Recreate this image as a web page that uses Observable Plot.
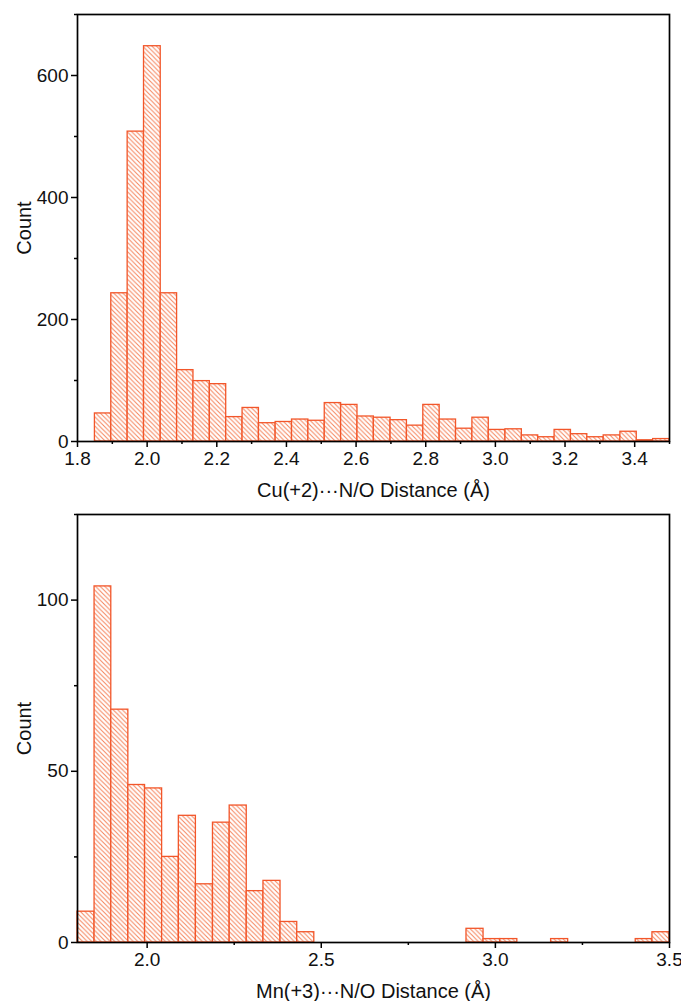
<!DOCTYPE html>
<html><head><meta charset="utf-8">
<script src="https://cdn.jsdelivr.net/npm/d3@7"></script>
<script src="https://cdn.jsdelivr.net/npm/@observablehq/plot@0.6"></script>
<style>body{margin:0;background:#fff} svg{display:block}</style>
</head><body><div id="c"></div>
<script>
// Top histogram: Cu(+2)···N/O distances
const cuEdges = [1.850, 1.897, 1.944, 1.991, 2.039, 2.086, 2.133, 2.180, 2.227, 2.274, 2.321, 2.369,
  2.416, 2.463, 2.510, 2.557, 2.604, 2.651, 2.699, 2.746, 2.793, 2.840, 2.887, 2.934, 2.981, 3.029,
  3.076, 3.123, 3.170, 3.217, 3.264, 3.311, 3.359, 3.406, 3.453, 3.500];
const cuCounts = [46, 243, 508, 648, 243, 117, 99, 94, 40, 55, 30, 32, 36, 34, 63, 60, 41, 39, 35, 26,
  60, 36, 21, 39, 19, 20, 10, 7, 19, 12, 7, 10, 16, 2, 4];
const cuXTicks = [1.8, 2.0, 2.2, 2.4, 2.6, 2.8, 3.0, 3.2, 3.4];
const cuXMinor = [1.9, 2.1, 2.3, 2.5, 2.7, 2.9, 3.1, 3.3, 3.5];
const cuYTicks = [0, 200, 400, 600];
const cuYMinor = [100, 300, 500, 700];

// Bottom histogram: Mn(+3)···N/O distances
const mnEdges = [1.800, 1.849, 1.897, 1.946, 1.994, 2.043, 2.091, 2.140, 2.189, 2.237, 2.286, 2.334,
  2.383, 2.431, 2.480, 2.529, 2.577, 2.626, 2.674, 2.723, 2.771, 2.820, 2.869, 2.917, 2.966, 3.014,
  3.063, 3.111, 3.160, 3.209, 3.257, 3.306, 3.354, 3.403, 3.451, 3.500];
const mnCounts = [9, 104, 68, 46, 45, 25, 37, 17, 35, 40, 15, 18, 6, 3, 0, 0, 0, 0, 0, 0, 0, 0, 0,
  4, 1, 1, 0, 0, 1, 0, 0, 0, 0, 1, 3];
const mnXTicks = [2.0, 2.5, 3.0, 3.5];
const mnXMinor = [2.25, 2.75, 3.25];
const mnYTicks = [0, 50, 100];
const mnYMinor = [25, 75, 125];

const ORANGE = "#f2562a";
const HATCH = "#f5845c";
const FONT = "'Liberation Sans', Arial, sans-serif";

function histo(o) {
  const data = o.counts.map((c, i) => ({x1: o.edges[i], x2: o.edges[i + 1], y: c})).filter(d => d.y > 0);
  const svg = Plot.plot({
    width: 681, height: o.height,
    marginTop: 14, marginBottom: 59, marginLeft: 77, marginRight: 12,
    x: {domain: [1.8, 3.5]},
    y: {domain: o.yDomain},
    style: {fontFamily: FONT, background: "white", overflow: "visible"},
    marks: [
      Plot.rectY(data, {x1: "x1", x2: "x2", y: "y", fill: `url(#${o.id})`, stroke: ORANGE, strokeWidth: 1.3,
        insetLeft: 0, insetRight: 0}),
      Plot.frame({stroke: "#000", strokeWidth: 1.7}),
      Plot.axisX({ticks: o.xTicks, tickSize: 6, tickPadding: 4, tickFormat: d3.format(".1f"),
        fontSize: 19, label: null, stroke: "#000", fill: "#111", strokeWidth: 1.5}),
      Plot.axisX({ticks: o.xMinor, tickSize: 3, tickFormat: () => "", label: null, stroke: "#000", strokeWidth: 1.5}),
      Plot.axisX({ticks: [], label: o.xLabel, labelAnchor: "center", labelArrow: "none", labelOffset: 55,
        fontSize: 20, fill: "#111"}),
      Plot.axisY({ticks: o.yTicks, tickSize: 6, tickPadding: 3, tickFormat: d3.format("d"),
        fontSize: 19, label: null, stroke: "#000", fill: "#111", strokeWidth: 1.5}),
      Plot.axisY({ticks: o.yMinor, tickSize: 3, tickFormat: () => "", label: null, stroke: "#000", strokeWidth: 1.5}),
      Plot.axisY({ticks: [], label: "Count", labelAnchor: "center", labelArrow: "none", labelOffset: 61,
        fontSize: 20, fill: "#111"})
    ]
  });
  const ns = "http://www.w3.org/2000/svg";
  const defs = document.createElementNS(ns, "defs");
  defs.innerHTML = `<pattern id="${o.id}" patternUnits="userSpaceOnUse" width="4.6" height="4.6">
    <rect width="4.6" height="4.6" fill="white"/>
    <path d="M-1,-1 L5.6,5.6 M-1,3.6 L1,5.6 M3.6,-1 L5.6,1" stroke="${HATCH}" stroke-width="1"/>
  </pattern>`;
  svg.insertBefore(defs, svg.firstChild);
  return svg;
}

const c = document.getElementById("c");
c.append(histo({id: "hatchCu", edges: cuEdges, counts: cuCounts, height: 500, yDomain: [0, 700],
  xTicks: cuXTicks, xMinor: cuXMinor, yTicks: cuYTicks, yMinor: cuYMinor,
  xLabel: "Cu(+2)···N/O Distance (Å)"}));
c.append(histo({id: "hatchMn", edges: mnEdges, counts: mnCounts, height: 501, yDomain: [0, 125],
  xTicks: mnXTicks, xMinor: mnXMinor, yTicks: mnYTicks, yMinor: mnYMinor,
  xLabel: "Mn(+3)···N/O Distance (Å)"}));
</script></body></html>
